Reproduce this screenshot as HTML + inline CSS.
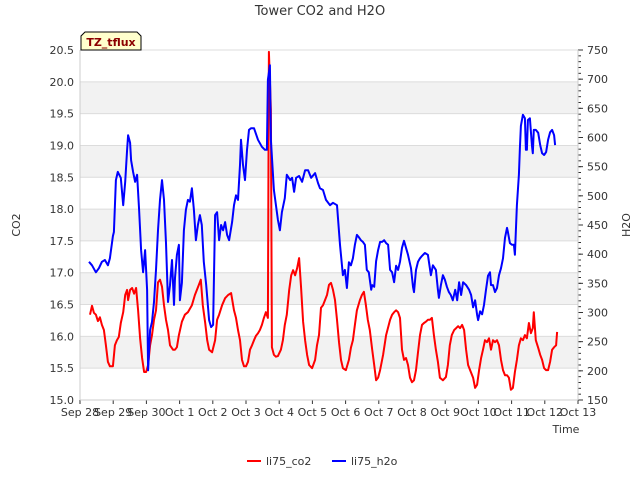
<!DOCTYPE html>
<html><head><meta charset="utf-8"><style>
body{margin:0;background:#fff;}
svg text{font-family:"DejaVu Sans","Liberation Sans",sans-serif;}
</style></head><body>
<svg id="chart" width="640" height="480" viewBox="0 0 640 480" xmlns="http://www.w3.org/2000/svg">
<text x="320" y="15" text-anchor="middle" font-size="13" fill="#333">Tower CO2 and H2O</text>
<g id="bands"></g><g id="grid"></g>
<g id="series"></g>
<g id="axes"></g>
<g>
<path d="M81,50 L81,36 L85,32 L137,32 L141,36 L141,50 Z" fill="#ffffcc" stroke="#000" stroke-width="1"/>
<text x="111" y="46" text-anchor="middle" font-size="11" font-weight="bold" fill="#8b0000">TZ_tflux</text>
</g>
<text transform="translate(20,225) rotate(-90)" text-anchor="middle" font-size="11" fill="#333">CO2</text>
<text transform="translate(630,225) rotate(-90)" text-anchor="middle" font-size="11" fill="#333">H2O</text>
<text x="566" y="433" text-anchor="middle" font-size="11" fill="#333">Time</text>
<g>
<g><line x1="247" y1="461" x2="261" y2="461" stroke="#f00" stroke-width="2"/><text x="266" y="465" font-size="11" fill="#333">li75_co2</text></g>
<g><line x1="332" y1="461" x2="346" y2="461" stroke="#00f" stroke-width="2"/><text x="351" y="465" font-size="11" fill="#333">li75_h2o</text></g>
</g>
</svg>
<script>
const xTickLabels=["Sep 28","Sep 29","Sep 30","Oct 1","Oct 2","Oct 3","Oct 4","Oct 5","Oct 6","Oct 7","Oct 8","Oct 9","Oct 10","Oct 11","Oct 12","Oct 13"];
const leftTicks=[15.0,15.5,16.0,16.5,17.0,17.5,18.0,18.5,19.0,19.5,20.0,20.5];
const rightTicks=[150,200,250,300,350,400,450,500,550,600,650,700,750];
const h2oDays=[.27,.36,.48,.57,.66,.75,.84,.90,.99,1.02,1.08,1.14,1.23,1.30,1.36,1.42,1.45,1.51,1.54,1.60,1.66,1.72,1.78,1.84,1.90,1.96,2.02,2.05,2.11,2.17,2.23,2.29,2.35,2.41,2.47,2.53,2.59,2.65,2.71,2.77,2.83,2.86,2.92,2.98,3.01,3.07,3.13,3.19,3.25,3.31,3.37,3.43,3.49,3.55,3.61,3.67,3.73,3.80,3.89,3.95,4.01,4.07,4.13,4.19,4.25,4.31,4.37,4.43,4.49,4.58,4.64,4.70,4.76,4.82,4.85,4.91,4.97,5.03,5.09,5.15,5.24,5.36,5.48,5.57,5.63,5.66,5.72,5.75,5.84,5.96,6.02,6.08,6.17,6.23,6.33,6.39,6.45,6.51,6.60,6.69,6.78,6.87,6.96,7.08,7.17,7.23,7.32,7.41,7.53,7.62,7.74,7.83,7.92,7.98,8.04,8.10,8.16,8.22,8.28,8.34,8.40,8.46,8.52,8.58,8.64,8.70,8.77,8.80,8.86,8.92,8.98,9.04,9.10,9.16,9.22,9.28,9.34,9.40,9.46,9.52,9.58,9.64,9.70,9.76,9.82,9.88,9.97,10.03,10.06,10.12,10.18,10.24,10.30,10.39,10.48,10.57,10.63,10.72,10.78,10.81,10.87,10.93,10.99,11.05,11.11,11.17,11.23,11.30,11.36,11.42,11.48,11.54,11.63,11.72,11.78,11.84,11.90,11.96,11.99,12.05,12.11,12.17,12.23,12.29,12.35,12.38,12.44,12.50,12.56,12.62,12.68,12.74,12.80,12.86,12.89,12.95,13.01,13.07,13.10,13.16,13.22,13.25,13.28,13.34,13.40,13.43,13.46,13.49,13.55,13.61,13.64,13.67,13.73,13.80,13.86,13.92,13.98,14.04,14.10,14.16,14.22,14.28,14.31];
const h2oValues=[387,381,369,376,387,390,381,393,431,438,527,541,531,484,524,579,604,591,561,541,524,536,476,407,369,407,339,201,270,284,318,373,441,493,527,493,419,318,347,390,313,359,399,416,321,351,441,476,493,490,513,476,424,450,467,450,387,347,287,275,279,467,472,424,450,441,455,433,424,455,484,501,493,553,596,553,527,579,613,616,616,596,584,579,579,699,724,596,510,459,441,472,496,536,527,531,507,531,534,524,544,544,531,539,522,513,510,493,484,488,484,416,364,373,342,386,381,393,416,433,429,424,421,416,373,369,339,347,344,388,407,421,421,424,419,416,373,369,352,380,373,387,411,423,411,399,376,344,335,373,387,393,397,402,399,364,381,373,339,325,347,364,356,344,335,330,321,339,321,352,330,352,347,339,330,309,321,296,287,302,297,313,339,363,369,347,347,335,342,364,376,393,428,445,438,419,416,416,399,484,536,582,620,639,633,579,579,630,633,587,573,613,613,608,587,573,570,575,596,609,613,604,587];
const co2Days=[.30,.36,.42,.48,.54,.60,.66,.72,.78,.84,.90,.99,1.05,1.11,1.17,1.23,1.30,1.36,1.42,1.45,1.51,1.57,1.63,1.69,1.75,1.81,1.87,1.93,1.99,2.05,2.11,2.17,2.23,2.29,2.35,2.41,2.47,2.53,2.59,2.65,2.71,2.80,2.86,2.92,2.98,3.07,3.16,3.25,3.37,3.46,3.52,3.58,3.64,3.70,3.77,3.83,3.89,3.98,4.07,4.13,4.19,4.28,4.37,4.46,4.55,4.64,4.70,4.76,4.82,4.88,4.94,5.00,5.06,5.12,5.18,5.24,5.30,5.36,5.42,5.48,5.54,5.60,5.66,5.69,5.75,5.78,5.84,5.90,5.96,6.05,6.11,6.17,6.23,6.30,6.36,6.42,6.48,6.54,6.60,6.66,6.72,6.78,6.84,6.90,6.99,7.08,7.14,7.20,7.26,7.32,7.38,7.44,7.50,7.56,7.62,7.68,7.74,7.80,7.86,7.92,8.01,8.10,8.16,8.22,8.28,8.34,8.43,8.49,8.55,8.61,8.67,8.73,8.80,8.86,8.92,8.98,9.04,9.13,9.22,9.34,9.40,9.46,9.52,9.58,9.64,9.70,9.76,9.82,9.88,9.94,10.00,10.06,10.12,10.18,10.24,10.30,10.36,10.42,10.48,10.54,10.60,10.66,10.72,10.78,10.84,10.93,11.02,11.08,11.14,11.20,11.27,11.33,11.39,11.45,11.51,11.57,11.63,11.69,11.75,11.84,11.90,11.96,12.02,12.08,12.14,12.20,12.26,12.32,12.38,12.44,12.50,12.56,12.62,12.68,12.74,12.80,12.86,12.92,12.98,13.04,13.10,13.16,13.22,13.28,13.34,13.40,13.46,13.52,13.58,13.64,13.67,13.73,13.80,13.86,13.92,13.98,14.04,14.10,14.16,14.22,14.28,14.34,14.37];
const co2Values=[16.34,16.48,16.37,16.34,16.24,16.30,16.18,16.10,15.86,15.60,15.53,15.53,15.86,15.94,15.99,16.21,16.38,16.65,16.73,16.57,16.73,16.76,16.67,16.76,16.41,15.97,15.66,15.44,15.44,15.55,15.86,16.02,16.26,16.41,16.85,16.89,16.78,16.49,16.26,16.10,15.86,15.79,15.79,15.83,16.02,16.23,16.34,16.38,16.49,16.65,16.73,16.81,16.89,16.49,16.21,15.94,15.79,15.75,15.94,16.26,16.34,16.49,16.60,16.65,16.68,16.41,16.29,16.10,15.94,15.63,15.53,15.53,15.60,15.79,15.86,15.94,16.01,16.05,16.10,16.18,16.29,16.38,16.29,20.47,19.56,15.83,15.71,15.68,15.69,15.79,15.94,16.18,16.34,16.73,16.96,17.04,16.96,17.07,17.23,16.76,16.23,15.94,15.71,15.55,15.50,15.63,15.86,16.02,16.45,16.49,16.57,16.65,16.81,16.84,16.73,16.57,16.26,15.91,15.63,15.50,15.47,15.63,15.82,15.94,16.18,16.41,16.57,16.65,16.70,16.49,16.26,16.10,15.79,15.55,15.31,15.35,15.47,15.71,16.02,16.26,16.34,16.38,16.41,16.38,16.29,15.79,15.63,15.66,15.55,15.35,15.28,15.31,15.47,15.75,16.02,16.18,16.21,16.23,16.26,16.26,16.29,16.02,15.79,15.60,15.35,15.31,15.36,15.55,15.86,16.02,16.10,16.13,16.16,16.13,16.18,16.10,15.79,15.55,15.47,15.35,15.19,15.24,15.47,15.66,15.79,15.94,15.91,15.97,15.79,15.94,15.91,15.94,15.86,15.63,15.47,15.39,15.39,15.35,15.16,15.19,15.44,15.63,15.86,15.97,15.94,16.02,15.97,16.21,16.05,16.13,16.38,15.94,15.82,15.71,15.63,15.50,15.47,15.47,15.60,15.79,15.83,15.86,16.07];

const NS="http://www.w3.org/2000/svg";
const L=80,R=578,T=50,B=400;
const xS=d=>L+d*(R-L)/15;
const yL=v=>B-(v-15)*(B-T)/5.5;
const yR=v=>B-(v-150)*(B-T)/600;
function mk(tag,attrs,parent){const e=document.createElementNS(NS,tag);for(const k in attrs)e.setAttribute(k,attrs[k]);parent.appendChild(e);return e;}
const bands=document.getElementById('bands'),grid=document.getElementById('grid'),axes=document.getElementById('axes'),series=document.getElementById('series');
for(let i=0;i<leftTicks.length-1;i++){
  if(i%2===1){const r=mk('rect',{x:L,y:yL(leftTicks[i+1]),width:R-L,height:yL(leftTicks[i])-yL(leftTicks[i+1]),fill:'#f2f2f2'},bands);
  
  }
}
leftTicks.forEach(v=>{
  const y=yL(v);
  const g=mk('line',{x1:L,x2:R,y1:y,y2:y,stroke:'#dcdcdc','stroke-width':1},grid);
  
  
  const t=mk('text',{x:L-6,y:y+4,'text-anchor':'end','font-size':11,fill:'#333'},axes);
  
  
  t.textContent=v.toFixed(1);
});
rightTicks.forEach(v=>{
  const y=yR(v);
  mk('line',{x1:R,x2:R+5,y1:y,y2:y,stroke:'#333'},axes);
  const t=mk('text',{x:R+9,y:y+4,'font-size':11,fill:'#333'},axes);
  
  
  t.textContent=v;
});
for(let v=150;v<=750;v+=10){const y=yR(v);mk('line',{x1:R,x2:R+3,y1:y,y2:y,stroke:'#333'},axes);}
xTickLabels.forEach((s,i)=>{
  const x=xS(i);
  mk('line',{x1:x,x2:x,y1:B,y2:B+4,stroke:'#333'},axes);
  const t=mk('text',{x:x,y:B+16,'text-anchor':'middle','font-size':11,fill:'#333'},axes);
  
  
  t.textContent=s;
});
mk('line',{x1:L,x2:L,y1:T,y2:B,stroke:'#ccc'},axes);
mk('line',{x1:R,x2:R,y1:T,y2:B,stroke:'#ccc'},axes);
mk('line',{x1:L,x2:R,y1:B,y2:B,stroke:'#ccc'},axes);
const co2Pts=co2Days.map((d,i)=>xS(d).toFixed(1)+','+yL(co2Values[i]).toFixed(1)).join(' ');
const p1=mk('polyline',{points:co2Pts,fill:'none',stroke:'#f00','stroke-width':2,'stroke-linejoin':'round'},series);


const h2oPts=h2oDays.map((d,i)=>xS(d).toFixed(1)+','+yR(h2oValues[i]).toFixed(1)).join(' ');
const p2=mk('polyline',{points:h2oPts,fill:'none',stroke:'#00f','stroke-width':2,'stroke-linejoin':'round'},series);


</script>
</body></html>
